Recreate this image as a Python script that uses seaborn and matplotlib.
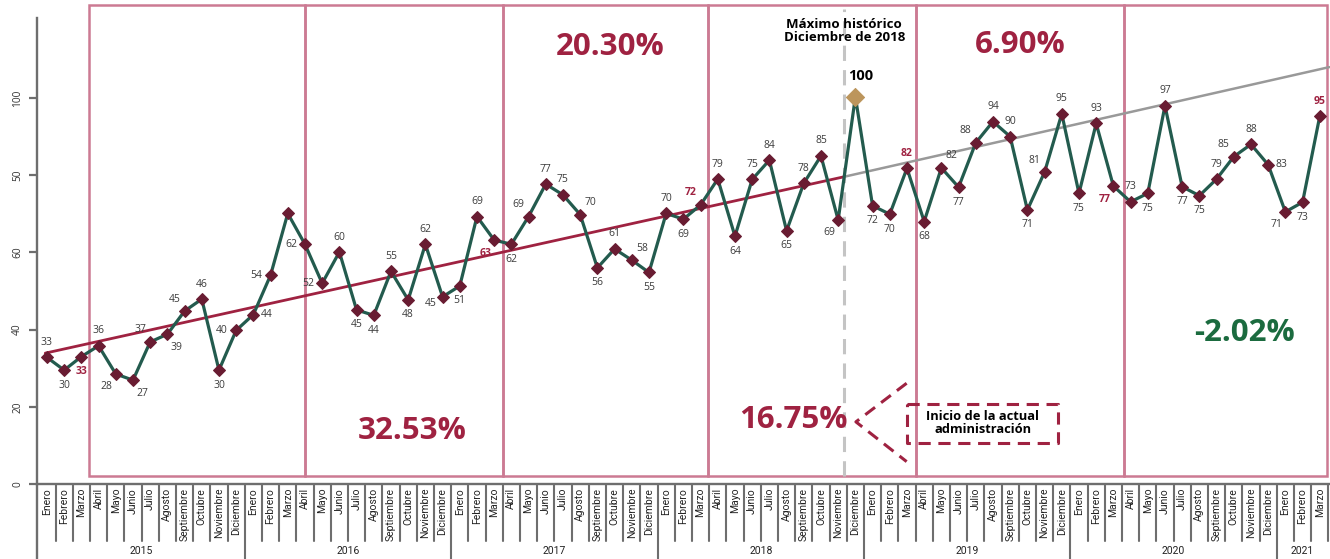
import pandas as pd
import matplotlib
matplotlib.use('Agg')
import matplotlib.pyplot as plt
import seaborn as sns

# Datos: indice mensual (ene-2015 = 0 ... mar-2021 = 74)
meses = ['Enero', 'Febrero', 'Marzo', 'Abril', 'Mayo', 'Junio', 'Julio', 'Agosto',
         'Septiembre', 'Octubre', 'Noviembre', 'Diciembre']
anios = ['2015', '2016', '2017', '2018', '2019', '2020', '2021']
meses_por_anio = [12, 12, 12, 12, 12, 12, 3]

valores = [32.8, 29.5, 33.0, 35.8, 28.5, 26.9, 36.8, 38.8, 44.8, 47.9, 29.5, 39.8,
           43.9, 54.1, 70.1, 62.1, 52.0, 60.1, 45.1, 43.7, 55.1, 47.7, 62.1, 48.5,
           51.3, 69.3, 63.2, 62.1, 69.3, 77.7, 74.9, 69.8, 56.0, 60.9, 58.0, 54.8,
           70.1, 68.6, 72.3, 79.0, 64.2, 78.9, 83.9, 65.6, 77.9, 85.0, 68.4, 100.3,
           72.1, 69.9, 81.8, 68.0, 81.9, 76.9, 88.4, 93.9, 90.0, 71.0, 80.8, 95.9,
           75.3, 93.4, 77.2, 73.1, 75.3, 98.0, 77.0, 74.7, 79.0, 84.8, 88.0, 82.7,
           70.5, 73.0, 95.3]

etiquetas = ['33', '30', '33', '36', '28', '27', '37', '39', '45', '46', '30', '40',
             '44', '54', '', '62', '52', '60', '45', '44', '55', '48', '62', '45',
             '51', '69', '63', '62', '69', '77', '75', '70', '56', '61', '58', '55',
             '70', '69', '72', '79', '64', '75', '84', '65', '78', '85', '69', '100',
             '72', '70', '82', '68', '82', '77', '88', '94', '90', '71', '81', '95',
             '75', '93', '77', '73', '75', '97', '77', '75', '79', '85', '88', '83',
             '71', '73', '95']

# tendencias
tend_x_1 = [-0.1, 46.35]
tend_y_1 = [33.9, 79.6]
tend_x_2 = [46.35, 74.55]
tend_y_2 = [79.6, 108.0]

# periodos (recuadros) y variaciones
limites_periodos = [2.46, 15.0, 26.5, 38.45, 50.5, 62.6, 74.4]
variaciones = ['32.53%', '20.30%', '16.75%', '6.90%', '-2.02%']

# posicion de cada etiqueta respecto al punto
pos_etq = ['a', 'b', 'b', 'a', 'bl', 'br', 'al', 'br', 'al', 'a', 'b', 'l',
           'r', 'l', '', 'l', 'l', 'a', 'b', 'b', 'a', 'b', 'a', 'lb',
           'b', 'a', 'bl', 'b', 'al', 'a', 'a', 'ar', 'b', 'a', 'ar', 'b',
           'a', 'b', 'al', 'a', 'b', 'a', 'a', 'b', 'a', 'a', 'bl', 'x',
           'b', 'b', 'a', 'b', 'ar', 'b', 'al', 'a', 'a', 'b', 'al', 'a',
           'b', 'a', 'bl', 'a', 'b', 'a', 'b', 'b', 'a', 'al', 'a', 'r',
           'bl', 'b', 'a']
offsets = {'a': (0, 15), 'b': (0, -15), 'l': (-14, 0), 'r': (13, 0),
           'al': (-10, 12), 'ar': (10, 12), 'bl': (-9, -13), 'br': (9, -13),
           'lb': (-12, -7), 'x': (5, 21)}

VERDE = '#235B4E'
GUINDA = '#691C32'
ROJO = '#9F2241'
DORADO = '#BC955C'
ROSA = '#cc7a93'
GRIS = '#6e6e6e'

sns.set_style('white')
plt.rcParams['font.family'] = ['Open Sans', 'DejaVu Sans']

fig = plt.figure(figsize=(13.3, 5.59), dpi=100)
ax = fig.add_axes([37 / 1330, 75 / 559, 1293 / 1330, 466 / 559])

n = len(valores)
df = pd.DataFrame({'idx': range(n), 'valor': valores})

# recuadros de periodos
for x0, x1 in zip(limites_periodos[:-1], limites_periodos[1:]):
    ax.add_patch(plt.Rectangle((x0, 2.1), x1 - x0, 122.0, fill=False, ec=ROSA,
                               lw=1.8, clip_on=False, zorder=1))

# linea vertical del maximo historico
ax.plot([46.35, 46.35], [2.1, 123], color='#c4c4c4', lw=2.2, ls=(0, (5, 3)),
        clip_on=False, zorder=1.5)

# tendencias
sns.lineplot(x=tend_x_1, y=tend_y_1, ax=ax, color=ROJO, lw=2.0, zorder=3)
sns.lineplot(x=tend_x_2, y=tend_y_2, ax=ax, color='#999999', lw=1.8, zorder=3)

# serie principal
sns.lineplot(data=df, x='idx', y='valor', ax=ax, color=VERDE, lw=2.3, marker='D',
             markersize=6.3, markerfacecolor=GUINDA, markeredgecolor=GUINDA, zorder=4)
sns.scatterplot(data=df.iloc[[47]], x='idx', y='valor', ax=ax, marker='D', s=85,
                color=DORADO, edgecolor=DORADO, zorder=5)

# etiquetas de datos
for i, (v, t, p) in enumerate(zip(valores, etiquetas, pos_etq)):
    if not t:
        continue
    dx, dy = offsets[p]
    if meses[i % 12] == 'Marzo':
        kw = dict(color=ROJO, fontweight='bold', fontsize=7.5)
    elif p == 'x':
        kw = dict(color='black', fontweight='bold', fontsize=10.5)
    else:
        kw = dict(color='#3c3c3c', fontsize=7.5)
    ax.annotate(t, (i, v), xytext=(dx, dy), textcoords='offset pixels',
                ha='center', va='center', zorder=6, **kw)

# variaciones por periodo
pos_var = [(21.22, 13.7), (32.73, 113.2), (43.37, 16.6), (56.57, 113.7), (69.65, 39.1)]
for txt, (x, y) in zip(variaciones, pos_var):
    c = '#1b6b3f' if txt.startswith('-') else ROJO
    ax.text(x, y, txt, color=c, fontsize=22.5, fontweight='bold', ha='center', va='center')

ax.text(46.35, 117.4, 'Máximo histórico\nDiciembre de 2018', ha='center', va='center',
        fontsize=9.5, fontweight='bold', color='black', linespacing=1.0, clip_on=False)

# flecha de inicio de administracion
flecha_kw = dict(color=ROJO, lw=2.2, ls=(0, (4, 2.5)), clip_on=False, zorder=2)
ax.plot([49.98, 47.03, 49.98], [26.1, 16.1, 5.8], **flecha_kw)
ax.plot([49.98, 58.79, 58.79, 49.98, 49.98], [20.6, 20.6, 10.7, 10.7, 20.6], **flecha_kw)
ax.text(54.4, 15.7, 'Inicio de la actual\nadministración', ha='center', va='center',
        fontsize=9.3, fontweight='bold', color='black', linespacing=1.0)

# ejes
ax.set_xlim(-0.58, -0.58 + 1293 / 17.2)
ax.set_ylim(0, 466 / 3.86)
ax.set_yticks([0, 20, 40, 60, 80, 100])
ax.set_yticklabels(['0', '20', '40', '60', '50', '100'], rotation=90, va='center',
                   fontsize=7.3, color='#333333')
ax.tick_params(axis='y', length=6, width=1.6, color=GRIS, pad=4, left=True)
ax.set_xticks([])
ax.set_xlabel('')
ax.set_ylabel('')
for s in ['top', 'right']:
    ax.spines[s].set_visible(False)
for s in ['left', 'bottom']:
    ax.spines[s].set_color(GRIS)
    ax.spines[s].set_linewidth(1.7)

# tabla de meses y anios bajo el eje
x0 = ax.get_xlim()[0]
ax.plot([x0, x0], [0, -19.5], color=GRIS, lw=1.7, clip_on=False)
k = 0
for anio, nm in zip(anios, meses_por_anio):
    for j in range(nm):
        ax.text(k + j, -1.0, meses[j], rotation=90, ha='center', va='top',
                fontsize=7.5, color='#222222', family=['Roboto', 'DejaVu Sans'])
        if j < nm - 1 or anio == '2021':
            ax.plot([k + j + 0.5] * 2, [0, -14.8], color=GRIS, lw=1.5, clip_on=False)
    if k > 0:
        ax.plot([k - 0.5] * 2, [0, -19.5], color=GRIS, lw=1.5, clip_on=False)
    ax.text(k + (nm - 1) / 2, -17.3, anio, ha='center', va='center', fontsize=7.5,
            color='#222222', family=['Roboto', 'DejaVu Sans'])
    k += nm

fig.savefig('out.png', dpi=100)
